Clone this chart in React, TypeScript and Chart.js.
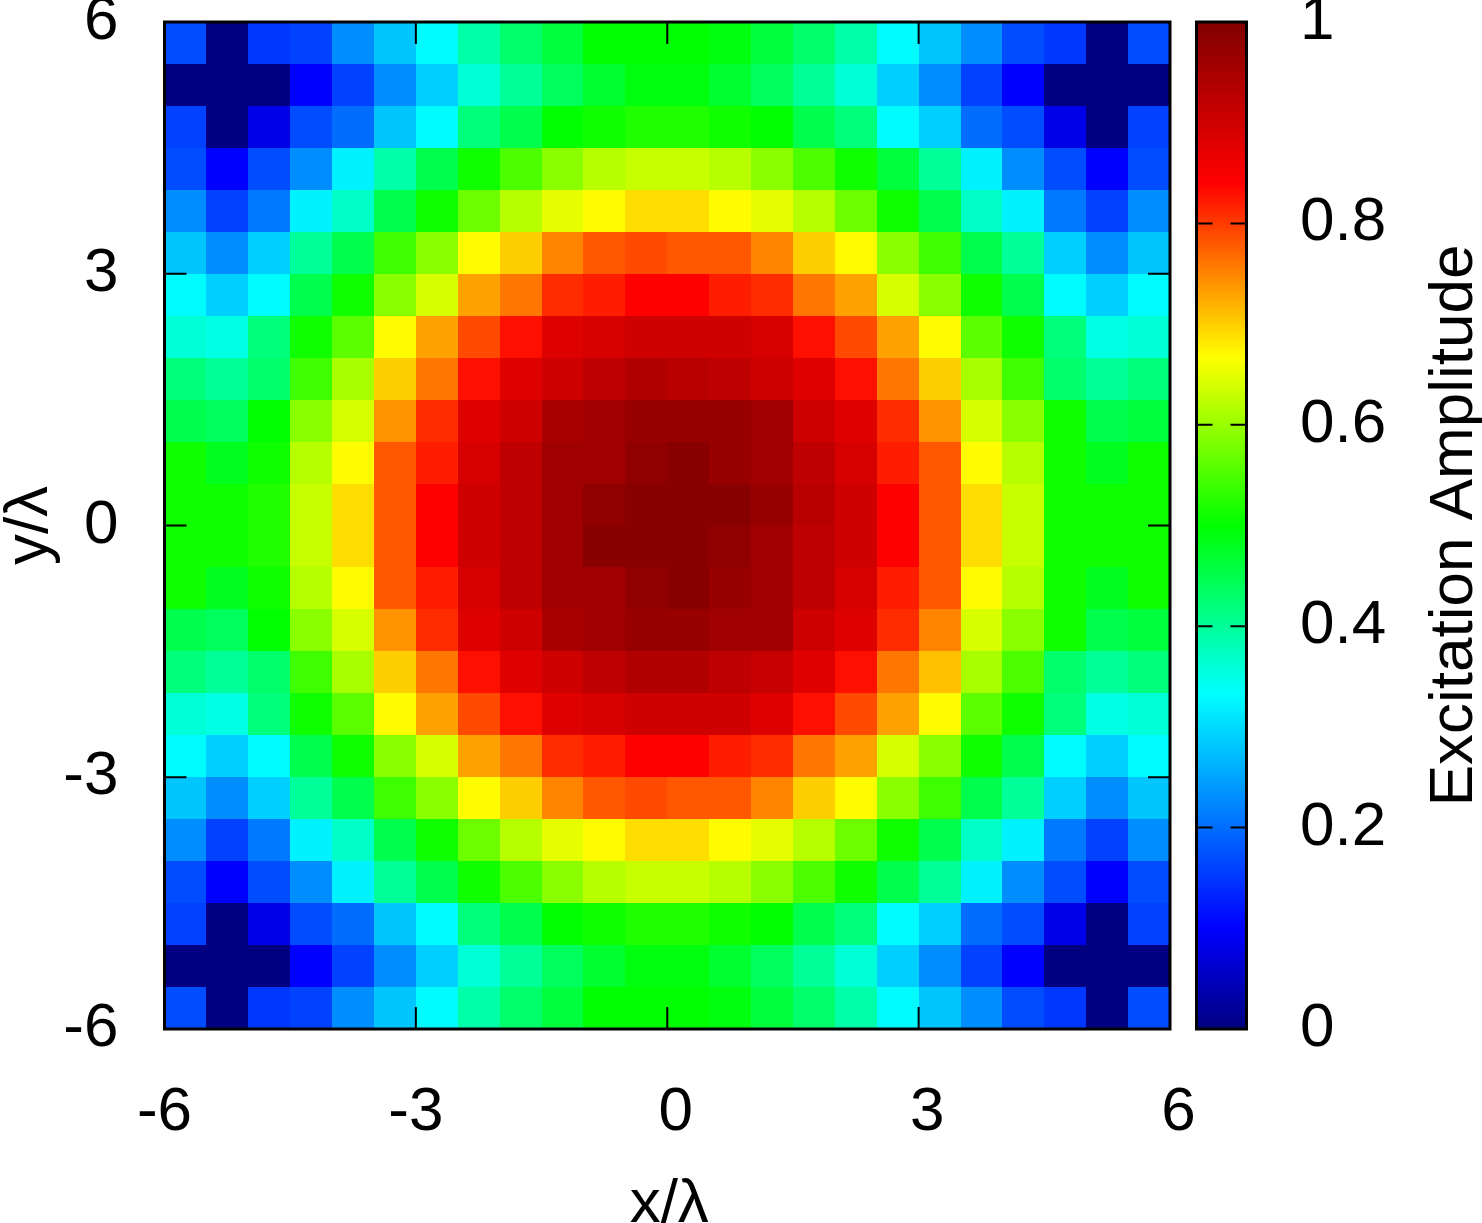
import React, { useEffect, useRef } from "react";
import { Chart, registerables } from "chart.js";

Chart.register(...registerables);

// ---- data ----
const xCenters = [-5.75, -5.25, -4.75, -4.25, -3.75, -3.25, -2.75, -2.25, -1.75, -1.25, -0.75, -0.25,
  0.25, 0.75, 1.25, 1.75, 2.25, 2.75, 3.25, 3.75, 4.25, 4.75, 5.25, 5.75];
const yCenters = [5.75, 5.25, 4.75, 4.25, 3.75, 3.25, 2.75, 2.25, 1.75, 1.25, 0.75, 0.25,
  -0.25, -0.75, -1.25, -1.75, -2.25, -2.75, -3.25, -3.75, -4.25, -4.75, -5.25, -5.75];
const axisTicks = [-6, -3, 0, 3, 6];
const colorbarTicks = [0, 0.2, 0.4, 0.6, 0.8, 1];
const xTitle = "x/λ";
const yTitle = "y/λ";
const colorbarTitle = "Excitation Amplitude";

// amplitude rows, top (y = 5.75) to bottom (y = -5.75), left to right
const amplitudeRows: number[][] = [
  [0.17, 0.0, 0.15, 0.16, 0.23, 0.28, 0.33, 0.39, 0.43, 0.46, 0.50, 0.50, 0.50, 0.49, 0.46, 0.43, 0.39, 0.33, 0.28, 0.23, 0.17, 0.15, 0.0, 0.17],
  [0.0, 0.0, 0.0, 0.10, 0.16, 0.23, 0.29, 0.36, 0.40, 0.44, 0.47, 0.49, 0.49, 0.47, 0.44, 0.40, 0.36, 0.29, 0.23, 0.16, 0.10, 0.0, 0.0, 0.0],
  [0.16, 0.0, 0.08, 0.17, 0.20, 0.28, 0.33, 0.42, 0.45, 0.50, 0.51, 0.52, 0.52, 0.51, 0.50, 0.45, 0.42, 0.33, 0.29, 0.20, 0.17, 0.08, 0.0, 0.16],
  [0.17, 0.10, 0.17, 0.23, 0.32, 0.39, 0.45, 0.51, 0.55, 0.59, 0.62, 0.63, 0.63, 0.62, 0.59, 0.55, 0.51, 0.46, 0.40, 0.32, 0.23, 0.17, 0.10, 0.17],
  [0.23, 0.16, 0.21, 0.32, 0.37, 0.45, 0.51, 0.57, 0.62, 0.65, 0.67, 0.69, 0.69, 0.67, 0.65, 0.62, 0.57, 0.51, 0.45, 0.37, 0.32, 0.21, 0.16, 0.23],
  [0.28, 0.23, 0.29, 0.40, 0.45, 0.54, 0.59, 0.67, 0.70, 0.75, 0.78, 0.79, 0.78, 0.78, 0.75, 0.70, 0.67, 0.59, 0.54, 0.45, 0.40, 0.29, 0.23, 0.28],
  [0.33, 0.29, 0.33, 0.45, 0.51, 0.59, 0.64, 0.73, 0.76, 0.81, 0.82, 0.84, 0.84, 0.82, 0.81, 0.76, 0.73, 0.64, 0.59, 0.51, 0.45, 0.33, 0.29, 0.33],
  [0.36, 0.35, 0.42, 0.51, 0.56, 0.67, 0.73, 0.79, 0.83, 0.88, 0.89, 0.90, 0.90, 0.90, 0.89, 0.83, 0.79, 0.73, 0.67, 0.56, 0.51, 0.42, 0.35, 0.36],
  [0.42, 0.40, 0.43, 0.54, 0.61, 0.70, 0.76, 0.83, 0.88, 0.90, 0.92, 0.94, 0.93, 0.92, 0.90, 0.88, 0.83, 0.76, 0.70, 0.61, 0.54, 0.43, 0.40, 0.42],
  [0.45, 0.44, 0.50, 0.59, 0.64, 0.74, 0.81, 0.88, 0.90, 0.95, 0.96, 0.97, 0.97, 0.97, 0.96, 0.90, 0.88, 0.81, 0.74, 0.64, 0.59, 0.51, 0.45, 0.46],
  [0.51, 0.48, 0.51, 0.62, 0.67, 0.78, 0.82, 0.89, 0.92, 0.96, 0.96, 0.98, 0.99, 0.97, 0.96, 0.92, 0.89, 0.82, 0.78, 0.67, 0.62, 0.51, 0.48, 0.51],
  [0.51, 0.51, 0.52, 0.63, 0.69, 0.78, 0.84, 0.90, 0.92, 0.96, 0.98, 0.99, 0.99, 0.99, 0.97, 0.93, 0.90, 0.84, 0.78, 0.69, 0.63, 0.51, 0.51, 0.51],
  [0.51, 0.51, 0.52, 0.63, 0.69, 0.78, 0.84, 0.90, 0.92, 0.96, 0.99, 0.99, 0.99, 0.98, 0.96, 0.92, 0.90, 0.84, 0.78, 0.69, 0.63, 0.51, 0.51, 0.51],
  [0.51, 0.48, 0.51, 0.62, 0.67, 0.78, 0.82, 0.89, 0.92, 0.96, 0.96, 0.98, 0.99, 0.97, 0.96, 0.92, 0.89, 0.82, 0.78, 0.67, 0.62, 0.51, 0.48, 0.51],
  [0.45, 0.44, 0.50, 0.59, 0.64, 0.74, 0.81, 0.88, 0.90, 0.95, 0.96, 0.97, 0.97, 0.96, 0.96, 0.90, 0.88, 0.81, 0.75, 0.64, 0.59, 0.51, 0.45, 0.46],
  [0.42, 0.40, 0.43, 0.54, 0.61, 0.70, 0.76, 0.83, 0.88, 0.90, 0.92, 0.94, 0.94, 0.92, 0.91, 0.88, 0.83, 0.76, 0.71, 0.61, 0.55, 0.43, 0.40, 0.42],
  [0.36, 0.35, 0.42, 0.51, 0.56, 0.67, 0.73, 0.79, 0.83, 0.88, 0.89, 0.90, 0.90, 0.90, 0.88, 0.83, 0.79, 0.73, 0.67, 0.56, 0.51, 0.42, 0.35, 0.36],
  [0.33, 0.29, 0.33, 0.45, 0.51, 0.59, 0.64, 0.73, 0.76, 0.81, 0.82, 0.84, 0.84, 0.82, 0.81, 0.76, 0.73, 0.64, 0.59, 0.51, 0.45, 0.33, 0.29, 0.33],
  [0.28, 0.23, 0.29, 0.40, 0.45, 0.54, 0.59, 0.67, 0.70, 0.75, 0.78, 0.79, 0.78, 0.78, 0.75, 0.70, 0.67, 0.59, 0.54, 0.45, 0.40, 0.29, 0.23, 0.28],
  [0.23, 0.16, 0.21, 0.32, 0.37, 0.45, 0.51, 0.57, 0.62, 0.65, 0.67, 0.69, 0.69, 0.67, 0.65, 0.62, 0.57, 0.51, 0.45, 0.37, 0.32, 0.21, 0.16, 0.23],
  [0.17, 0.10, 0.17, 0.23, 0.32, 0.40, 0.45, 0.51, 0.55, 0.59, 0.62, 0.63, 0.63, 0.62, 0.59, 0.55, 0.51, 0.45, 0.40, 0.32, 0.23, 0.17, 0.10, 0.17],
  [0.16, 0.0, 0.08, 0.17, 0.20, 0.28, 0.33, 0.42, 0.45, 0.50, 0.51, 0.52, 0.52, 0.51, 0.50, 0.45, 0.42, 0.33, 0.29, 0.20, 0.17, 0.08, 0.0, 0.16],
  [0.0, 0.0, 0.0, 0.10, 0.16, 0.23, 0.29, 0.36, 0.40, 0.44, 0.47, 0.49, 0.49, 0.47, 0.44, 0.40, 0.36, 0.29, 0.23, 0.16, 0.10, 0.0, 0.0, 0.0],
  [0.17, 0.0, 0.15, 0.16, 0.23, 0.28, 0.33, 0.39, 0.43, 0.46, 0.50, 0.50, 0.50, 0.49, 0.46, 0.43, 0.39, 0.33, 0.28, 0.23, 0.17, 0.15, 0.0, 0.17],
];

// ---- styling ----
const W = 1482;
const H = 1223;
const FONT_FAMILY = '"Liberation Sans", Arial, Helvetica, sans-serif';
const FONT_SIZE = 62;

const paletteStops: [number, [number, number, number]][] = [
  [0, [0, 0, 128]],
  [0.1, [0, 0, 255]],
  [0.333, [0, 255, 255]],
  [0.5, [0, 255, 0]],
  [0.667, [255, 255, 0]],
  [0.84, [255, 0, 0]],
  [1, [128, 0, 0]],
];

function colorFor(v: number): string {
  const t = Math.max(0, Math.min(1, v));
  for (let i = 1; i < paletteStops.length; i++) {
    const [p1, c1] = paletteStops[i];
    const [p0, c0] = paletteStops[i - 1];
    if (t <= p1) {
      const f = (t - p0) / (p1 - p0);
      const r = Math.round(c0[0] + (c1[0] - c0[0]) * f);
      const g = Math.round(c0[1] + (c1[1] - c0[1]) * f);
      const b = Math.round(c0[2] + (c1[2] - c0[2]) * f);
      return `rgb(${r},${g},${b})`;
    }
  }
  const c = paletteStops[paletteStops.length - 1][1];
  return `rgb(${c[0]},${c[1]},${c[2]})`;
}

const heatmapPlugin = {
  id: "heatmapCells",
  beforeDatasetsDraw(chart: any) {
    const { ctx } = chart;
    const xs = chart.scales.x;
    const ys = chart.scales.y;
    const hx = Math.abs(xCenters[1] - xCenters[0]) / 2;
    const hy = Math.abs(yCenters[1] - yCenters[0]) / 2;
    const pts = chart.data.datasets[0].data as { x: number; y: number; v: number }[];
    ctx.save();
    for (const p of pts) {
      const x0 = Math.round(xs.getPixelForValue(p.x - hx));
      const x1 = Math.round(xs.getPixelForValue(p.x + hx));
      const y0 = Math.round(ys.getPixelForValue(p.y + hy));
      const y1 = Math.round(ys.getPixelForValue(p.y - hy));
      ctx.fillStyle = colorFor(p.v);
      ctx.fillRect(x0, y0, x1 - x0, y1 - y0);
    }
    ctx.restore();
  },
  afterDraw(chart: any) {
    const { ctx, chartArea } = chart;
    const xs = chart.scales.x;
    const ys = chart.scales.y;
    const cb = chart.scales.cb;
    const { left, right, top, bottom } = chartArea;
    ctx.save();
    // plot frame
    ctx.strokeStyle = "#000";
    ctx.lineWidth = 3;
    ctx.strokeRect(left, top, right - left, bottom - top);
    // inward ticks on all four sides
    ctx.lineWidth = 2;
    const tl = 22;
    ctx.beginPath();
    for (const v of axisTicks) {
      const px = xs.getPixelForValue(v);
      ctx.moveTo(px, bottom); ctx.lineTo(px, bottom - tl);
      ctx.moveTo(px, top); ctx.lineTo(px, top + tl);
      const py = ys.getPixelForValue(v);
      ctx.moveTo(left, py); ctx.lineTo(left + tl, py);
      ctx.moveTo(right, py); ctx.lineTo(right - tl, py);
    }
    ctx.stroke();

    // colorbar
    const cbL = right + 26.5;
    const cbR = right + 76.5;
    const cbTop = cb.getPixelForValue(1);
    const cbBot = cb.getPixelForValue(0);
    const grad = ctx.createLinearGradient(0, cbBot, 0, cbTop);
    for (const [p, c] of paletteStops) grad.addColorStop(p, `rgb(${c[0]},${c[1]},${c[2]})`);
    ctx.fillStyle = grad;
    ctx.fillRect(cbL, cbTop, cbR - cbL, cbBot - cbTop);
    ctx.lineWidth = 3;
    ctx.strokeRect(cbL, cbTop, cbR - cbL, cbBot - cbTop);
    ctx.lineWidth = 2;
    ctx.beginPath();
    for (const v of colorbarTicks) {
      const py = cb.getPixelForValue(v);
      ctx.moveTo(cbL, py); ctx.lineTo(cbL + 16, py);
      ctx.moveTo(cbR, py); ctx.lineTo(cbR - 16, py);
    }
    ctx.stroke();

    // titles
    ctx.fillStyle = "#000";
    ctx.font = `${FONT_SIZE}px ${FONT_FAMILY}`;
    ctx.textBaseline = "alphabetic";
    ctx.textAlign = "center";
    ctx.fillText(xTitle, (left + right) / 2 + 2, H - 1);

    ctx.save();
    ctx.translate(47, (top + bottom) / 2);
    ctx.rotate(-Math.PI / 2);
    ctx.fillText(yTitle, 0, 0);
    ctx.restore();

    ctx.save();
    ctx.translate(1472, (top + bottom) / 2);
    ctx.rotate(-Math.PI / 2);
    ctx.fillText(colorbarTitle, 0, 0);
    ctx.restore();

    ctx.restore();
  },
};

export default function App() {
  const canvasRef = useRef<HTMLCanvasElement | null>(null);

  useEffect(() => {
    const canvas = canvasRef.current;
    if (!canvas) return;
    const points: { x: number; y: number; v: number }[] = [];
    amplitudeRows.forEach((row, r) => {
      row.forEach((v, c) => {
        points.push({ x: xCenters[c], y: yCenters[r], v });
      });
    });

    const tickFont = { family: FONT_FAMILY, size: FONT_SIZE };

    const chart = new Chart(canvas, {
      type: "scatter",
      data: {
        datasets: [
          {
            label: "amplitude",
            data: points as any,
            pointRadius: 0,
            pointHoverRadius: 0,
            showLine: false,
          },
        ],
      },
      plugins: [heatmapPlugin],
      options: {
        animation: false,
        responsive: false,
        maintainAspectRatio: false,
        events: [],
        layout: { padding: { top: 22, left: 0, right: 0, bottom: 0 } },
        plugins: {
          legend: { display: false },
          tooltip: { enabled: false },
          title: { display: false },
        },
        scales: {
          x: {
            type: "linear",
            position: "bottom",
            min: -6,
            max: 6,
            afterBuildTicks: (s: any) => {
              s.ticks = axisTicks.map((v) => ({ value: v }));
            },
            afterFit: (s: any) => {
              s.height = H - 1029;
              s.paddingLeft = 0;
              s.paddingRight = 0;
            },
            grid: { display: false, drawTicks: false },
            border: { display: false },
            ticks: {
              color: "#000",
              font: tickFont,
              padding: 47,
              maxRotation: 0,
              autoSkip: false,
              // sign-padded labels (a space in place of the minus sign)
              callback: (v: any) => (Number(v) < 0 ? String(v) : " " + String(v)),
            },
          },
          y: {
            type: "linear",
            position: "left",
            min: -6,
            max: 6,
            afterBuildTicks: (s: any) => {
              s.ticks = axisTicks.map((v) => ({ value: v }));
            },
            afterFit: (s: any) => {
              s.width = 164.5;
              s.paddingTop = 0;
              s.paddingBottom = 0;
            },
            grid: { display: false, drawTicks: false },
            border: { display: false },
            ticks: {
              color: "#000",
              font: tickFont,
              padding: 46,
              autoSkip: false,
              callback: (v: any) => String(v),
            },
          },
          cb: {
            type: "linear",
            position: "right",
            min: 0,
            max: 1,
            afterBuildTicks: (s: any) => {
              s.ticks = colorbarTicks.map((v) => ({ value: v }));
            },
            afterFit: (s: any) => {
              s.width = W - 1170;
              s.paddingTop = 0;
              s.paddingBottom = 0;
            },
            grid: { display: false, drawTicks: false },
            border: { display: false },
            ticks: {
              color: "#000",
              font: tickFont,
              padding: 130,
              autoSkip: false,
              callback: (v: any) => String(v),
            },
          },
        },
      } as any,
    });

    return () => {
      chart.destroy();
    };
  }, []);

  return (
    <div style={{ position: "fixed", left: 0, top: 0, width: W, height: H, background: "#fff" }}>
      <canvas ref={canvasRef} width={W} height={H} style={{ display: "block" }} />
    </div>
  );
}
